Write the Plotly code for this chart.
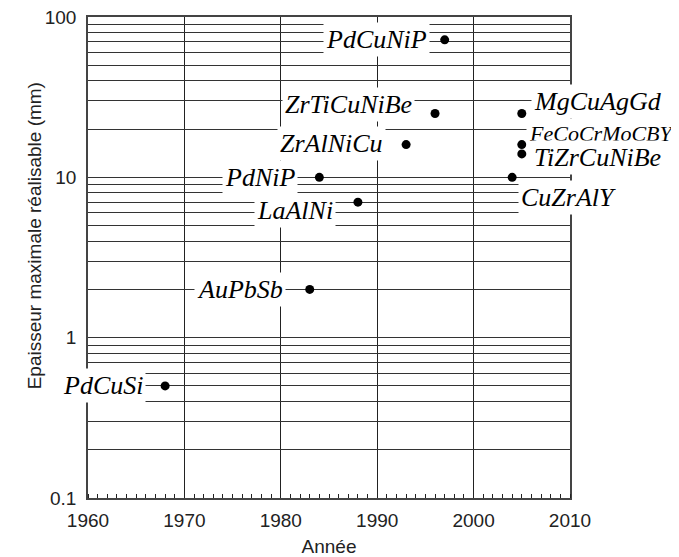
import numpy as np
import plotly.graph_objects as go

# Verres métalliques massifs : année de découverte et épaisseur maximale
alloys = ['PdCuSi', 'AuPbSb', 'PdNiP', 'LaAlNi', 'ZrAlNiCu', 'ZrTiCuNiBe',
          'PdCuNiP', 'MgCuAgGd', 'FeCoCrMoCBY', 'TiZrCuNiBe', 'CuZrAlY']
years = [1968, 1983, 1984, 1988, 1993, 1996, 1997, 2005, 2005, 2005, 2004]
thickness_mm = [0.5, 2, 10, 7, 16, 25, 72, 25, 16, 14, 10]

x_ticks = [1960, 1970, 1980, 1990, 2000, 2010]
y_grid = [m * 10.0 ** e for e in (-1, 0, 1) for m in range(1, 10)] + [100]
y_labels = {0.1: '0.1', 1: '1', 10: '10', 100: '100'}
y_tick_text = [y_labels.get(round(v, 6), '') for v in y_grid]

SERIF = 'Liberation Serif'
SANS = 'Liberation Sans'
sans_font = dict(family=SANS, size=19, color='#222')

# placement des étiquettes (ancre, décalage x, décalage y, taille)
label_style = {
    'PdCuSi': ('right', -19, 0, 26),
    'AuPbSb': ('right', -24, 0, 26),
    'PdNiP': ('right', -21, 0, 26),
    'LaAlNi': ('right', -22, -8, 26),
    'ZrAlNiCu': ('right', -20, 1, 26),
    'ZrTiCuNiBe': ('right', -20, 9, 26),
    'PdCuNiP': ('right', -15, 0, 26),
    'MgCuAgGd': ('left', 9, 12, 26),
    'FeCoCrMoCBY': ('left', 4, 11, 22),
    'TiZrCuNiBe': ('left', 9, -4, 26),
    'CuZrAlY': ('left', 6, -20, 26),
}

fig = go.Figure()
fig.add_trace(go.Scatter(
    x=years, y=thickness_mm, mode='markers',
    marker=dict(size=9, color='black'),
    showlegend=False, cliponaxis=False,
))

for name, yr, th in zip(alloys, years, thickness_mm):
    anchor, dx, dy, size = label_style[name]
    fig.add_annotation(
        x=yr, y=np.log10(th), text='<i>' + name + '</i>', showarrow=False,
        xanchor=anchor, yanchor='middle', xshift=dx, yshift=dy,
        bgcolor='white', borderpad=2,
        font=dict(family=SERIF, size=size, color='black'),
    )

# titre de l'axe y, placé à la main
fig.add_annotation(
    x=-0.137, y=0.545, xref='paper', yref='paper',
    text='Epaisseur maximale réalisable (mm)',
    showarrow=False, textangle=-90, font=sans_font,
)

# la page ajoute 8 px de marge autour de la figure
fig.update_layout(
    width=671, height=549,
    margin=dict(l=80, r=109, t=9, b=59),
    plot_bgcolor='white', paper_bgcolor='white',
)
fig.update_xaxes(
    range=[1960, 2010], tickvals=x_ticks, ticks='',
    showgrid=True, gridcolor='#222', gridwidth=1,
    showline=True, linecolor='#444', linewidth=1.5, mirror=True,
    minor=dict(dtick=1, ticks='inside', ticklen=4, tickcolor='#222', showgrid=False),
    tickfont=sans_font, ticklabelstandoff=4,
    title=dict(text='Année', standoff=14, font=sans_font),
    zeroline=False, automargin=False,
)
fig.update_yaxes(
    type='log', range=[-1, 2], tickvals=y_grid, ticktext=y_tick_text, ticks='',
    showgrid=True, gridcolor='#333', gridwidth=1,
    showline=True, linecolor='#444', linewidth=1.5, mirror=True,
    tickfont=sans_font, ticklabelstandoff=6, ticklabeloverflow='allow',
    zeroline=False, automargin=False,
)

fig.write_html('out.html')
